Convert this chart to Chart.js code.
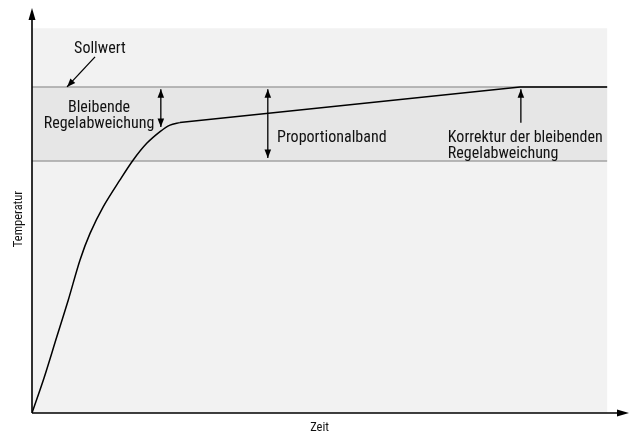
<!DOCTYPE html>
<html>
<head>
<meta charset="utf-8">
<script src="https://cdn.jsdelivr.net/npm/chart.js@4/dist/chart.umd.min.js"></script>
<style>
  body { margin: 0; background: #fff; }
  #wrap { width: 631px; height: 435px; position: relative; }
</style>
</head>
<body>
<div id="wrap"><canvas id="myChart"></canvas></div>
<script>
// Zeit (x) und Temperatur (y), Sollwert = 100
let timeX = [0, 2.09, 4.3, 6.31, 8.35, 10.09, 12.4, 15.3, 17.6, 19.95, 22.26, 24.0, 25.7, 84.87, 100]
let tempY = [0, 10.74, 23.3, 34.66, 46.93, 55.1, 63.3, 71.5, 77.6, 82.7, 86.3, 88.3, 89.05, 100, 100]
let kneeIndex = 12   // ab hier gerade Abschnitte

let setpoint = 100
let bandLow = 77.3
let bgTop = 118
let xEnd = 100
let xMax = 103.8
let yMax = 124.2

let font = '"Liberation Sans Narrow", "Roboto Condensed", "DejaVu Sans Condensed", sans-serif'

// texte (in Datenkoordinaten)
let texts = [
    { t: 'Sollwert', x: 11.8, y: 110.4, align: 'center' },
    { t: 'Bleibende', x: 11.65, y: 92.3, align: 'center' },
    { t: 'Regelabweichung', x: 11.65, y: 87.3, align: 'center' },
    { t: 'Proportionalband', x: 42.6, y: 83.1, align: 'left' },
    { t: 'Korrektur der bleibenden', x: 72.3, y: 83.1, align: 'left' },
    { t: 'Regelabweichung', x: 72.3, y: 78.2, align: 'left' }
]

// pfeile: von -> nach, kopf am anfang / ende
let arrows = [
    { x1: 10.96, y1: 109.2, x2: 6.09, y2: 100, start: false, end: true },
    { x1: 22.4, y1: 99.3, x2: 22.4, y2: 87.7, start: true, end: true },
    { x1: 41.0, y1: 99.3, x2: 41.0, y2: 78.2, start: true, end: true },
    { x1: 85.0, y1: 89, x2: 85.0, y2: 99.3, start: false, end: true }
]

function arrowHead(ctx, fx, fy, tx, ty, len, wid) {
    let a = Math.atan2(ty - fy, tx - fx)
    ctx.beginPath()
    ctx.moveTo(tx, ty)
    ctx.lineTo(tx - len * Math.cos(a) + wid * Math.sin(a), ty - len * Math.sin(a) - wid * Math.cos(a))
    ctx.lineTo(tx - len * Math.cos(a) - wid * Math.sin(a), ty - len * Math.sin(a) + wid * Math.cos(a))
    ctx.closePath()
    ctx.fill()
}

let backdrop = {
    id: 'backdrop',
    beforeDatasetsDraw(chart) {
        let ctx = chart.ctx
        let xs = chart.scales.x
        let ys = chart.scales.y
        let l = xs.getPixelForValue(0)
        let r = xs.getPixelForValue(xEnd)
        ctx.save()
        ctx.fillStyle = '#f2f2f2'
        ctx.fillRect(l, ys.getPixelForValue(bgTop), r - l, ys.getPixelForValue(0) - ys.getPixelForValue(bgTop))
        ctx.fillStyle = '#e6e6e6'
        ctx.fillRect(l, ys.getPixelForValue(setpoint), r - l, ys.getPixelForValue(bandLow) - ys.getPixelForValue(setpoint))
        ctx.strokeStyle = '#a3a3a3'
        ctx.lineWidth = 1.5
        for (let v of [setpoint, bandLow]) {
            let py = ys.getPixelForValue(v)
            ctx.beginPath()
            ctx.moveTo(l, py)
            ctx.lineTo(r, py)
            ctx.stroke()
        }
        ctx.restore()
    },
    afterDatasetsDraw(chart) {
        let ctx = chart.ctx
        let xs = chart.scales.x
        let ys = chart.scales.y
        let ox = xs.getPixelForValue(0)
        let oy = ys.getPixelForValue(0)
        let topY = ys.getPixelForValue(yMax)
        let rightX = xs.getPixelForValue(xMax)
        ctx.save()
        ctx.strokeStyle = '#000'
        ctx.fillStyle = '#000'
        ctx.lineWidth = 1.6
        // achsen
        ctx.beginPath()
        ctx.moveTo(ox, oy)
        ctx.lineTo(ox, topY + 6)
        ctx.moveTo(ox, oy)
        ctx.lineTo(rightX - 6, oy)
        ctx.stroke()
        arrowHead(ctx, ox, oy, ox, topY, 12, 3.5)
        arrowHead(ctx, ox, oy, rightX, oy, 12, 3.5)

        // annotationspfeile
        ctx.lineWidth = 1.3
        for (let a of arrows) {
            let x1 = xs.getPixelForValue(a.x1), y1 = ys.getPixelForValue(a.y1)
            let x2 = xs.getPixelForValue(a.x2), y2 = ys.getPixelForValue(a.y2)
            ctx.beginPath()
            ctx.moveTo(x1, y1)
            ctx.lineTo(x2, y2)
            ctx.stroke()
            if (a.end) arrowHead(ctx, x1, y1, x2, y2, 8.5, 3.3)
            if (a.start) arrowHead(ctx, x2, y2, x1, y1, 8.5, 3.3)
        }

        // texte
        ctx.font = '16px ' + font
        ctx.fillStyle = '#111'
        ctx.textBaseline = 'alphabetic'
        for (let t of texts) {
            ctx.textAlign = t.align
            ctx.fillText(t.t, xs.getPixelForValue(t.x), ys.getPixelForValue(t.y))
        }

        // achsentitel
        ctx.font = '12.5px ' + font
        ctx.textAlign = 'center'
        ctx.textBaseline = 'middle'
        ctx.fillText('Zeit', xs.getPixelForValue(xEnd / 2), oy + 15)
        ctx.translate(ox - 13, ys.getPixelForValue(59.5))
        ctx.rotate(-Math.PI / 2)
        ctx.fillText('Temperatur', 0, 0)
        ctx.restore()
    }
}

let points = timeX.map((x, i) => ({ x: x, y: tempY[i] }))

let lineStyle = {
    borderColor: '#000',
    borderWidth: 1.5,
    pointRadius: 0,
    fill: false
}

let chart1 = new Chart(document.getElementById('myChart').getContext('2d'), {
    type: 'line',
    data: {
        datasets: [
            Object.assign({ label: 'Anstieg', data: points.slice(0, kneeIndex + 1), tension: 0.3 }, lineStyle),
            Object.assign({ label: 'Ausregelung', data: points.slice(kneeIndex), tension: 0 }, lineStyle)
        ]
    },
    options: {
        responsive: true,
        maintainAspectRatio: false,
        animation: false,
        layout: { padding: { left: 32, right: 2, top: 8, bottom: 22 } },
        scales: {
            x: { type: 'linear', min: 0, max: xMax, display: false },
            y: { type: 'linear', min: 0, max: yMax, display: false }
        },
        plugins: {
            legend: { display: false },
            tooltip: { enabled: false }
        }
    },
    plugins: [backdrop]
})
</script>
</body>
</html>
